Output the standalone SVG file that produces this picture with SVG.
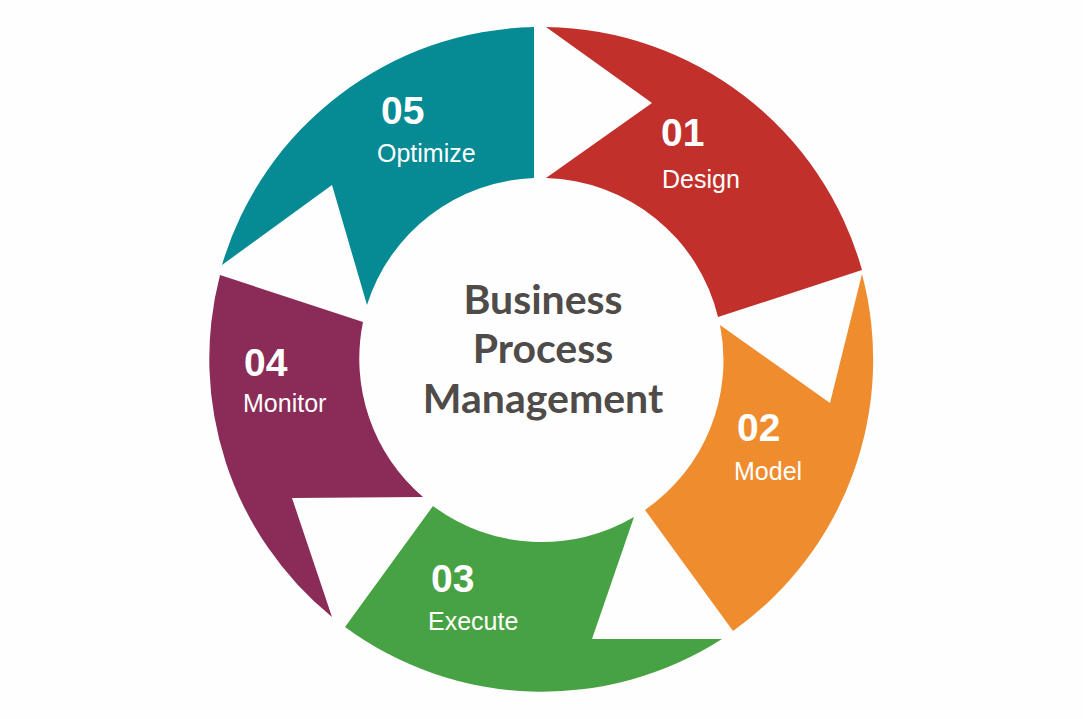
<svg xmlns="http://www.w3.org/2000/svg" width="1083" height="719" viewBox="0 0 1083 719">
<style>
.num{font-family:"Liberation Sans",Arial,sans-serif;font-weight:700;font-size:39px;fill:#ffffff}
.lbl{font-family:"Liberation Sans",Arial,sans-serif;font-size:25px;fill:#ffffff}
.ctr{font-family:Lato,"Open Sans",sans-serif;font-weight:700;font-size:41px;fill:#4f4b49;text-anchor:middle}
</style>
<rect width="1083" height="719" fill="#fefefe"/>
<g id="connectors"></g>
<g id="seg01">
<path d="M546,27 A333,333 0 0 1 862,270 L718,317 A182,182 0 0 0 546,178 L652,103 Z" fill="#c2302b"/>
<text class="num" x="661" y="146">01</text>
<text class="lbl" x="662" y="188">Design</text>
</g>
<g id="seg02">
<path d="M862,274 A333,333 0 0 1 733,631 L645,510 A182,182 0 0 0 720,325 L830,403 Z" fill="#ef8c2e"/>
<text class="num" x="737" y="441">02</text>
<text class="lbl" x="734" y="480">Model</text>
</g>
<g id="seg03">
<path d="M722,639 A333,333 0 0 1 345,627 L433,506 A182,182 0 0 0 634,517 L592,639 Z" fill="#47a243"/>
<text class="num" x="431" y="592">03</text>
<text class="lbl" x="428" y="630">Execute</text>
</g>
<g id="seg04">
<path d="M332,617 A333,333 0 0 1 220,275 L363,322 A182,182 0 0 0 423,497 L292,498 Z" fill="#8a2c57"/>
<text class="num" x="244" y="376">04</text>
<text class="lbl" x="243" y="412">Monitor</text>
</g>
<g id="seg05">
<path d="M222,265 A333,333 0 0 1 534,27 L534,178 A182,182 0 0 0 367,305 L332,185 Z" fill="#068a94"/>
<text class="num" x="381" y="124">05</text>
<text class="lbl" x="377" y="162">Optimize</text>
</g>
<g id="center">
<text class="ctr" x="543" y="314">Business</text>
<text class="ctr" x="543" y="363">Process</text>
<text class="ctr" x="543" y="413">Management</text>
</g>
</svg>
